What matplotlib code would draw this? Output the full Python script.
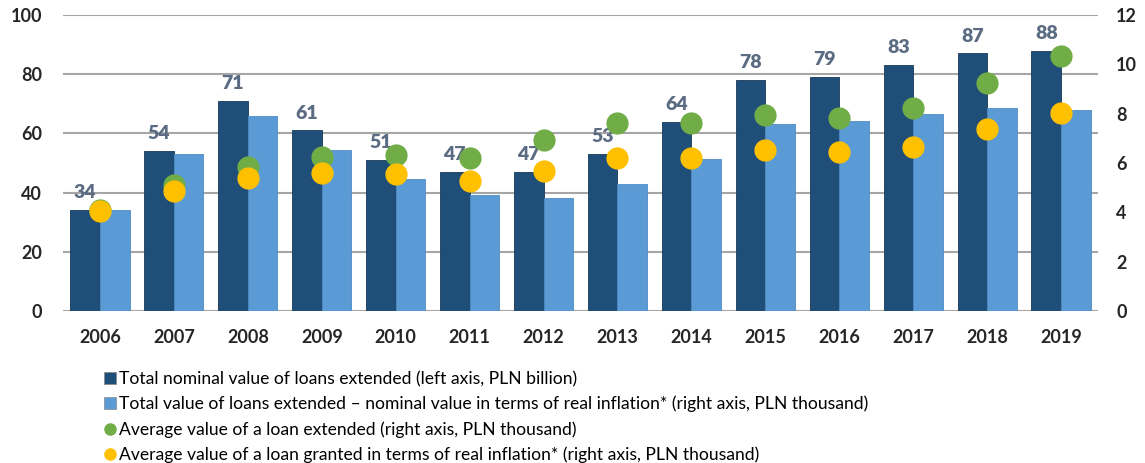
import matplotlib.pyplot as plt
import numpy as np
from matplotlib.lines import Line2D
from matplotlib.patches import Patch

plt.rcParams["font.family"] = ["Lato", "DejaVu Sans"]

years = [str(y) for y in range(2006, 2020)]

# left axis, PLN billion
nominal_total = [34, 54, 71, 61, 51, 47, 47, 53, 64, 78, 79, 83, 87, 88]
real_total = [34.0, 53.0, 66.0, 54.5, 44.6, 39.3, 38.2, 43.0, 51.2, 63.3, 64.3, 66.6, 68.7, 68.0]

# right axis, PLN thousand
avg_loan = [4.1, 5.1, 5.85, 6.25, 6.32, 6.19, 6.93, 7.63, 7.63, 7.94, 7.84, 8.22, 9.25, 10.35]
avg_loan_real = [4.04, 4.88, 5.40, 5.61, 5.55, 5.27, 5.68, 6.19, 6.19, 6.53, 6.45, 6.64, 7.36, 8.01]

DARK = "#1f4e79"
LIGHT = "#5b9bd5"
GREEN = "#70ad47"
YELLOW = "#ffc000"
TEXT = "#262626"

fig = plt.figure(figsize=(11.45, 4.63), dpi=100)
ax = fig.add_axes([63 / 1145, 1 - 311 / 463, 1035 / 1145, 296 / 463])
ax2 = ax.twinx()

x = np.arange(len(years))
w = 0.4
ax.bar(x - w / 2, nominal_total, w, color=DARK, edgecolor="#17395a", linewidth=0.6, zorder=2)
ax.bar(x + w / 2, real_total, w, color=LIGHT, edgecolor="#4f8bc4", linewidth=0.6, zorder=2)

for xi, v in zip(x, nominal_total):
    ax.text(xi - w / 2, v + 3, str(v), ha="center", va="bottom",
            fontsize=14, fontweight="heavy", color="#5a6b82")

ax2.plot(x, avg_loan, "o", ms=15, color=GREEN, zorder=3)
ax2.plot(x, avg_loan_real, "o", ms=15, color=YELLOW, zorder=4)

ax.set_xlim(-0.5, len(years) - 0.5)
ax.set_ylim(0, 100)
ax2.set_ylim(0, 12)
ax.set_yticks(range(0, 101, 20))
ax2.set_yticks(range(0, 13, 2))
ax.set_xticks(x)
ax.set_xticklabels(years)

ax.grid(axis="y", color="#a6a6a6", linewidth=1.5, zorder=0)
ax.set_axisbelow(True)
for a in (ax, ax2):
    for s in a.spines.values():
        s.set_visible(False)
    a.tick_params(length=0, labelsize=13, labelcolor=TEXT)
    for lbl in a.get_yticklabels() + a.get_xticklabels():
        lbl.set_fontweight("bold")
ax.tick_params(axis="y", pad=15)
ax2.tick_params(axis="y", pad=13)
ax.tick_params(axis="x", pad=13)
ax.axhline(0, color="#b0a8a0", linewidth=1.5, zorder=1)

handles = [
    Patch(facecolor=DARK, edgecolor="#888888", linewidth=0.5),
    Patch(facecolor=LIGHT, edgecolor="#888888", linewidth=0.5),
    Line2D([], [], marker="o", ls="none", ms=8, color=GREEN),
    Line2D([], [], marker="o", ls="none", ms=8, color=YELLOW),
]
labels = [
    "Total nominal value of loans extended (left axis, PLN billion)",
    "Total value of loans extended \u2013 nominal value in terms of real inflation* (right axis, PLN thousand)",
    "Average value of a loan extended (right axis, PLN thousand)",
    "Average value of a loan granted in terms of real inflation* (right axis, PLN thousand)",
]
fig.legend(handles, labels, loc="upper left", bbox_to_anchor=(104 / 1145, 1 - 371 / 463),
           frameon=False, fontsize=12.6, handlelength=0.7, handleheight=0.7,
           handletextpad=0.15, labelspacing=0.5, borderaxespad=0, borderpad=0)

fig.savefig("out.png", dpi=100)
